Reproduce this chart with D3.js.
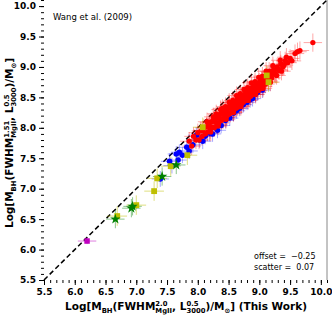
<!DOCTYPE html>
<html>
<head>
<meta charset="utf-8">
<script src="https://cdn.jsdelivr.net/npm/d3@7"></script>
<style>
  body { margin: 0; background: #fff; }
  svg { display: block; font-family: "DejaVu Sans", sans-serif; }
</style>
</head>
<body>
<script>
// Tick labels (both axes)
var majorTicks = [5.5, 6.0, 6.5, 7.0, 7.5, 8.0, 8.5, 9.0, 9.5, 10.0];

// Red circles: [this work, Wang et al.]
var redPts = [
  [7.86, 7.78], [7.90, 7.70], [7.93, 7.86], [7.97, 7.80], [8.00, 7.92], [8.02, 7.80],
  [8.05, 7.95], [8.07, 7.86], [8.10, 8.00], [8.12, 7.90], [8.14, 8.02], [8.16, 7.93],
  [8.18, 8.08], [8.20, 7.97], [8.22, 8.10], [8.24, 8.01], [8.26, 8.13], [8.27, 8.00],
  [8.29, 8.15], [8.31, 8.05], [8.33, 8.19], [8.34, 8.08], [8.36, 8.22], [8.38, 8.12],
  [8.39, 8.25], [8.41, 8.14], [8.43, 8.28], [8.44, 8.17], [8.46, 8.30], [8.47, 8.19],
  [8.49, 8.33], [8.50, 8.22], [8.52, 8.36], [8.53, 8.24], [8.55, 8.38], [8.56, 8.27],
  [8.58, 8.41], [8.59, 8.30], [8.61, 8.43], [8.62, 8.32], [8.64, 8.46], [8.65, 8.34],
  [8.67, 8.48], [8.68, 8.37], [8.70, 8.50], [8.71, 8.39], [8.73, 8.53], [8.74, 8.42],
  [8.76, 8.55], [8.77, 8.45], [8.79, 8.58], [8.80, 8.47], [8.82, 8.60], [8.83, 8.50],
  [8.85, 8.63], [8.86, 8.52], [8.88, 8.66], [8.90, 8.55], [8.92, 8.69], [8.94, 8.58],
  [8.96, 8.71], [8.98, 8.61], [9.00, 8.75], [9.02, 8.64], [9.04, 8.78], [9.06, 8.68],
  [9.08, 8.80], [9.10, 8.72], [9.13, 8.86], [9.15, 8.77], [9.18, 8.91], [9.20, 8.82],
  [9.23, 8.95], [9.26, 8.88], [9.29, 9.00], [9.32, 8.94], [9.35, 9.05], [9.38, 9.00],
  [9.42, 9.10], [9.46, 9.07], [9.50, 9.14], [9.58, 9.22], [9.62, 9.25], [9.66, 9.27],
  [9.87, 9.40],
  [8.08, 7.96], [8.19, 8.03], [8.28, 8.10], [8.35, 8.16], [8.42, 8.22], [8.48, 8.26],
  [8.54, 8.32], [8.60, 8.36], [8.66, 8.42], [8.72, 8.46], [8.78, 8.52], [8.84, 8.57],
  [8.89, 8.62], [8.95, 8.66], [9.01, 8.70], [9.07, 8.74], [9.12, 8.80], [9.19, 8.86],
  [9.25, 8.90], [9.31, 8.96], [9.40, 9.03], [8.45, 8.35], [8.57, 8.45], [8.69, 8.56],
  [8.81, 8.66], [8.93, 8.76], [9.05, 8.85], [9.16, 8.93], [8.25, 8.18], [8.37, 8.30],
  [8.15, 8.10], [8.30, 8.23], [8.40, 8.32], [8.51, 8.42], [8.63, 8.53], [8.75, 8.63],
  [8.87, 8.74], [8.99, 8.83], [9.11, 8.93], [9.22, 9.02], [9.34, 9.11], [9.44, 9.16],
  [8.21, 7.93], [8.33, 8.03], [8.46, 8.14], [8.58, 8.25], [8.70, 8.35], [8.82, 8.45],
  [8.94, 8.55], [9.06, 8.65], [9.18, 8.75], [9.28, 8.86], [9.36, 8.93], [9.53, 9.10]
];

// Blue circles
var bluePts = [
  [7.39, 7.16], [7.54, 7.45], [7.58, 7.38], [7.65, 7.57], [7.68, 7.47], [7.70, 7.60],
  [7.75, 7.55], [7.82, 7.68], [7.86, 7.62], [7.92, 7.72], [7.98, 7.88], [8.03, 7.80],
  [8.08, 7.78], [8.12, 7.86], [8.19, 7.91], [8.24, 7.90], [8.32, 7.96], [8.38, 8.04],
  [8.45, 8.12], [8.47, 8.17], [8.52, 8.16], [8.58, 8.24], [8.63, 8.28], [8.68, 8.32],
  [8.74, 8.38], [8.80, 8.42], [8.85, 8.46], [8.89, 8.48], [8.94, 8.55], [8.97, 8.58],
  [9.05, 8.62]
];

// Yellow squares
var yellowPts = [
  [6.69, 6.55], [7.00, 6.73], [7.29, 6.96], [7.34, 7.17], [7.56, 7.37], [7.83, 7.55],
  [8.08, 8.01], [9.12, 8.86], [9.15, 8.75]
];

// Green stars
var greenPts = [[6.66, 6.50], [6.92, 6.68], [6.94, 6.71], [7.42, 7.20], [7.65, 7.39]];

// Magenta square
var magentaPts = [[6.20, 6.14]];

// Typical error bars (dex) for each sample: [x, y]
var redErr = [0.15, 0.15];
var blueErr = [0.14, 0.13];
var yellowErr = [0.16, 0.16];
var greenErr = [0.15, 0.15];
var magentaErr = [0.15, 0.05];

var fitOffset = -0.25;
var fitScatter = 0.07;

var w = 332, h = 315;

var svg = d3.select("body").append("svg")
    .attr("width", w)
    .attr("height", h);

var xScale = d3.scaleLinear().domain([5.5, 10.1]).range([44, 327]);
var yScale = d3.scaleLinear().domain([5.5, 10.1]).range([280, 0]);

var minorTicks = d3.range(55, 102).map(function(d) { return d / 10; });

// Right spine
svg.append("line")
    .attr("x1", xScale(10.1)).attr("x2", xScale(10.1))
    .attr("y1", yScale(10.1)).attr("y2", yScale(5.5))
    .attr("stroke", "#888").attr("stroke-width", 1);

// Minor ticks
svg.append("g")
    .attr("transform", "translate(0," + yScale(5.5) + ")")
    .call(d3.axisBottom(xScale).tickValues(minorTicks).tickSize(3).tickFormat(""))
    .call(function(g) { g.select(".domain").remove(); });
svg.append("g")
    .attr("transform", "translate(" + xScale(5.5) + ",0)")
    .call(d3.axisLeft(yScale).tickValues(minorTicks).tickSize(3).tickFormat(""))
    .call(function(g) { g.select(".domain").remove(); });

// Major ticks and labels
var xAxis = svg.append("g")
    .attr("transform", "translate(0," + yScale(5.5) + ")")
    .call(d3.axisBottom(xScale).tickValues(majorTicks).tickSize(5).tickPadding(4)
      .tickFormat(d3.format(".1f")));
var yAxis = svg.append("g")
    .attr("transform", "translate(" + xScale(5.5) + ",0)")
    .call(d3.axisLeft(yScale).tickValues(majorTicks).tickSize(5).tickPadding(3)
      .tickFormat(d3.format(".1f")));
[xAxis, yAxis].forEach(function(g) {
  g.select(".domain").remove();
  g.selectAll("text")
      .style("font-family", "DejaVu Sans")
      .style("font-weight", "bold")
      .style("font-size", "9px")
      .attr("fill", "#000");
});

// 1:1 line
svg.append("line")
    .attr("x1", xScale(5.5)).attr("y1", yScale(5.5))
    .attr("x2", xScale(10.1)).attr("y2", yScale(10.1))
    .attr("stroke", "#000")
    .attr("stroke-width", 1.5)
    .attr("stroke-dasharray", "5,3");

// Error bars
function drawErrors(data, err, color, op) {
  var g = svg.append("g")
      .attr("stroke", color)
      .attr("stroke-opacity", op)
      .attr("stroke-width", 1);
  g.selectAll(".ex").data(data).enter().append("line")
      .attr("x1", function(d) { return xScale(d[0] - err[0]); })
      .attr("x2", function(d) { return xScale(d[0] + err[0]); })
      .attr("y1", function(d) { return yScale(d[1]); })
      .attr("y2", function(d) { return yScale(d[1]); });
  g.selectAll(".ey").data(data).enter().append("line")
      .attr("x1", function(d) { return xScale(d[0]); })
      .attr("x2", function(d) { return xScale(d[0]); })
      .attr("y1", function(d) { return yScale(d[1] - err[1]); })
      .attr("y2", function(d) { return yScale(d[1] + err[1]); });
}
drawErrors(bluePts, blueErr, "#0000ff", 0.35);
drawErrors(redPts, redErr, "#ff0000", 0.35);
drawErrors(yellowPts, yellowErr, "#bfbf00", 0.5);
drawErrors(greenPts, greenErr, "#008000", 0.45);
drawErrors(magentaPts, magentaErr, "#bf00bf", 0.5);

// Markers
function drawSymbols(data, type, size, color) {
  svg.append("g").selectAll("path")
      .data(data)
      .enter()
      .append("path")
      .attr("transform", function(d) {
        return "translate(" + xScale(d[0]) + "," + yScale(d[1]) + ")";
      })
      .attr("d", d3.symbol().type(type).size(size))
      .attr("fill", color);
}
drawSymbols(bluePts, d3.symbolCircle, 24, "#0000ff");
drawSymbols(redPts, d3.symbolCircle, 22, "#ff0000");
drawSymbols(yellowPts, d3.symbolSquare, 34, "#bfbf00");
drawSymbols(greenPts, d3.symbolStar, 34, "#008000");
drawSymbols(magentaPts, d3.symbolSquare, 30, "#bf00bf");

// Rich text with sub/superscripts
function richText(parent, parts, size) {
  var g = parent.append("g")
      .style("font-family", "DejaVu Sans")
      .style("font-weight", "bold");
  var cx = 0;
  parts.forEach(function(p) {
    if (typeof p === "string") {
      var t = g.append("text").attr("x", cx).attr("y", 0)
          .style("font-size", size + "px").style("white-space", "pre").text(p);
      cx += t.node().getComputedTextLength();
    } else {
      var s = size * 0.65, wmax = 0;
      if (p.sup) {
        var t1 = g.append("text").attr("x", cx).attr("y", -size * 0.42)
            .style("font-size", s + "px").text(p.sup);
        wmax = Math.max(wmax, t1.node().getComputedTextLength());
      }
      if (p.sub) {
        var t2 = g.append("text").attr("x", cx).attr("y", size * 0.25)
            .style("font-size", s + "px").text(p.sub);
        wmax = Math.max(wmax, t2.node().getComputedTextLength());
      }
      cx += wmax;
    }
  });
  return { g: g, width: cx };
}

var xl = richText(svg, ["Log[M", { sub: "BH" }, "(FWHM", { sup: "2.0", sub: "MgII" },
  ", L", { sup: "0.5", sub: "3000" }, ")/M", { sub: "\u2299" }, "] (This Work)"], 10.5);
xl.g.attr("transform", "translate(" + (186 - xl.width / 2) + ",310)");

var yl = richText(svg, ["Log[M", { sub: "BH" }, "(FWHM", { sup: "1.51", sub: "MgII" },
  ", L", { sup: "0.5", sub: "3000" }, ")/M", { sub: "\u2299" }, "]"], 10.5);
yl.g.attr("transform", "translate(13," + (143 + yl.width / 2) + ") rotate(-90)");

// Annotations
svg.append("text")
    .attr("x", 53).attr("y", 20)
    .style("font-size", "8.5px")
    .text("Wang et al. (2009)");

svg.append("text")
    .attr("x", 254).attr("y", 259)
    .style("font-size", "8px")
    .style("white-space", "pre")
    .text("offset =  " + d3.format(".2f")(fitOffset));
svg.append("text")
    .attr("x", 254).attr("y", 270)
    .style("font-size", "8px")
    .style("white-space", "pre")
    .text("scatter =  " + d3.format(".2f")(fitScatter));
</script>
</body>
</html>
